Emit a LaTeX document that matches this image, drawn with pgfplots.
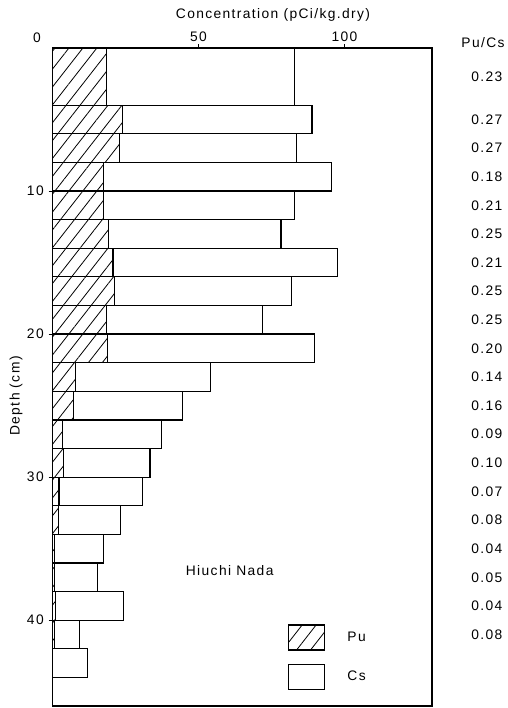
\documentclass[border=0pt]{standalone}
\usepackage{fontspec}
\setmainfont{Liberation Sans}[LetterSpace=10]
\usepackage{pgfplots}
\pgfplotsset{compat=1.18}
\usetikzlibrary{patterns.meta}
\begin{document}
\fontsize{13.8}{16}\selectfont
\begin{tikzpicture}[x=1pt,y=1pt]
\path[use as bounding box] (0,0) rectangle (507,708);
\begin{axis}[
  at={(52.5pt,2pt)}, anchor=south west,
  scale only axis, width=379.5pt, height=658pt,
  xmin=0, xmax=130, ymin=0, ymax=46, y dir=reverse,
  xtick={50,100}, ytick={10,20,30,40},
  xtick pos=right, xticklabel pos=right, ytick pos=left,
  xticklabel style={yshift=-2pt},
  tick align=outside, major tick length=4pt,
  axis line style={line width=1.4pt},
  tick style={line width=1pt, black},
  /pgf/number format/assume math mode=true,
  clip=false,
  legend image code/.code={\draw[#1,line width=1.1pt] (0pt,-12.5pt) rectangle (36pt,12.5pt);},
  legend style={at={(axis cs:80.8,40.3)}, anchor=north west, draw=none, fill=none,
    inner sep=0pt, outer sep=0pt, row sep=13pt, nodes={inner sep=0pt},
    /tikz/every odd column/.append style={column sep=22pt}},
  legend cell align=left,
]
\addlegendimage{draw=black, pattern={Lines[angle=52,distance=11pt,line width=0.8pt]}}
\addlegendentry{Pu}
\addlegendimage{draw=black, fill=white}
\addlegendentry{Cs}
% Cs bars
\addplot[forget plot, xbar, bar width=4, bar shift=0pt, draw=black, fill=white, line width=1.2pt]
  coordinates {(82.9,2)};
\addplot[forget plot, xbar, bar width=2, bar shift=0pt, draw=black, fill=white, line width=1.2pt]
  coordinates {(88.9,5) (83.7,7) (95.7,9) (83.0,11) (78.3,13) (97.7,15) (82.0,17) (72.0,19)
  (89.7,21) (54.1,23) (44.5,25) (37.4,27) (33.4,29) (30.7,31) (23.4,33) (17.4,35) (15.3,37)
  (24.4,39) (9.2,41) (11.9,43)};
% Pu bars
\addplot[forget plot, xbar, bar width=4, bar shift=0pt, draw=black, line width=1.2pt,
  pattern={Lines[angle=52,distance=11pt,line width=0.8pt]}]
  coordinates {(18.5,2)};
\addplot[forget plot, xbar, bar width=2, bar shift=0pt, draw=black, line width=1.2pt,
  pattern={Lines[angle=52,distance=11pt,line width=0.8pt]}]
  coordinates {(24.1,5) (22.9,7) (17.5,9) (17.6,11) (19.3,13) (20.7,15) (21.2,17) (18.4,19)
  (18.9,21) (7.9,23) (7.2,25) (3.5,27) (3.8,29) (2.2,31) (1.95,33) (0.7,35) (0.8,37)
  (1.0,39) (0.74,41)};
% Pu/Cs ratios
\node at (axis cs:148.8,2) {0.23};
\node at (axis cs:148.8,5) {0.27};
\node at (axis cs:148.8,7) {0.27};
\node at (axis cs:148.8,9) {0.18};
\node at (axis cs:148.8,11) {0.21};
\node at (axis cs:148.8,13) {0.25};
\node at (axis cs:148.8,15) {0.21};
\node at (axis cs:148.8,17) {0.25};
\node at (axis cs:148.8,19) {0.25};
\node at (axis cs:148.8,21) {0.20};
\node at (axis cs:148.8,23) {0.14};
\node at (axis cs:148.8,25) {0.16};
\node at (axis cs:148.8,27) {0.09};
\node at (axis cs:148.8,29) {0.10};
\node at (axis cs:148.8,31) {0.07};
\node at (axis cs:148.8,33) {0.08};
\node at (axis cs:148.8,35) {0.04};
\node at (axis cs:148.8,37) {0.05};
\node at (axis cs:148.8,39) {0.04};
\node at (axis cs:148.8,41) {0.08};
\node at (axis cs:60.7,36.5) {Hiuchi Nada};
\end{axis}
\node at (273,693) {Concentration (pCi/kg.dry)};
\node at (483,665) {Pu/Cs};
\node at (37,670.5) {0};
\node[rotate=90] at (16,312) {Depth (cm)};
\end{tikzpicture}
\end{document}
